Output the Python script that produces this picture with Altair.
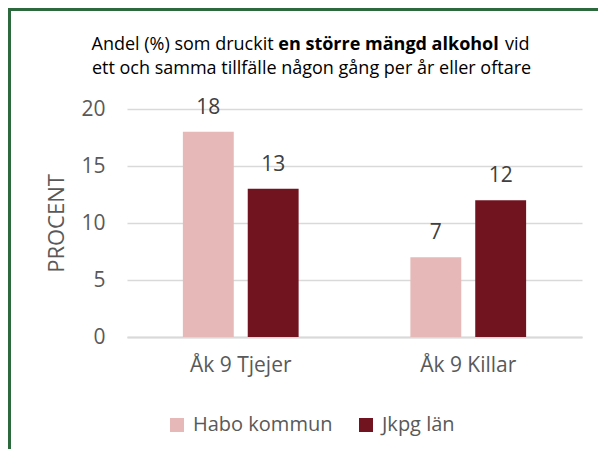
import altair as alt
import pandas as pd

categories = ["Åk 9 Tjejer", "Åk 9 Killar"]
series = ["Habo kommun", "Jkpg län"]
habo = [18, 7]
jkpg = [13, 12]
y_ticks = [0, 5, 10, 15, 20]
colors = ["#E6B8B7", "#721420"]

title_start = "Andel (%) som druckit"
title_bold = "en större mängd alkohol"
title_end = "vid"
title_line2 = "ett och samma tillfälle någon gång per år eller oftare"
y_title = "PROCENT"

rows = []
for i, c in enumerate(categories):
    rows.append({"Grupp": c, "Serie": series[0], "Procent": habo[i]})
    rows.append({"Grupp": c, "Serie": series[1], "Procent": jkpg[i]})
df = pd.DataFrame(rows)

FONT = "Open Sans"
PAD_L, PAD_T, PAD_R, PAD_B = 119, 101, 16, 112
W, H = 455, 228
BORDER = "#2C6A3E"

x_enc = alt.X("Grupp:N", sort=categories,
              scale=alt.Scale(paddingInner=0, paddingOuter=0),
              axis=alt.Axis(title=None, labelAngle=0, ticks=False, tickSize=0,
                            domain=True, domainColor="#d9d9d9", domainWidth=2,
                            labelPadding=17, labelFontSize=21, labelColor="#595959",
                            labelFont=FONT, grid=False))
xo_enc = alt.XOffset("Serie:N", sort=series,
                     scale=alt.Scale(paddingInner=0.2154, paddingOuter=0.8615))
y_enc = alt.Y("Procent:Q", scale=alt.Scale(domain=[0, 20], nice=False),
              axis=alt.Axis(values=y_ticks, title=y_title, domain=False, ticks=False,
                            tickSize=0, labelPadding=22, labelFontSize=21,
                            labelColor="#595959", labelFont=FONT, grid=True,
                            gridColor="#d9d9d9", gridWidth=1.3,
                            titleFont=FONT, titleFontSize=22, titleFontWeight="normal",
                            titleColor="#595959", titlePadding=12))

bars = alt.Chart(df).mark_bar().encode(
    x=x_enc, xOffset=xo_enc, y=y_enc,
    color=alt.Color("Serie:N", sort=series,
                    scale=alt.Scale(domain=series, range=colors),
                    legend=alt.Legend(title=None, orient="none", legendX=40, legendY=306,
                                      direction="horizontal", symbolType="square",
                                      symbolSize=196, symbolStrokeWidth=0,
                                      labelFontSize=20, labelColor="#595959",
                                      labelFont=FONT, columnPadding=23, labelOffset=6))
)

labels = alt.Chart(df).mark_text(dy=-18, baseline="alphabetic", fontSize=21,
                                 font=FONT, color="#404040").encode(
    x=alt.X("Grupp:N", sort=categories), xOffset=alt.XOffset("Serie:N", sort=series),
    y="Procent:Q", text="Procent:Q")

def txt(s, x, y, align, weight="normal"):
    return alt.Chart(pd.DataFrame({"t": [s]})).mark_text(
        align=align, baseline="alphabetic", fontSize=18, font=FONT,
        fontWeight=weight, color="#000000").encode(
        x=alt.value(x), y=alt.value(y), text="t:N")

t1 = txt(title_start, -35.5, -59, "left")
t2 = txt(title_bold, 151.3, -59, "left", "bold")
t3 = txt(title_end, 378, -59, "left")
t4 = txt(title_line2, 184.5, -35, "center")

border_df = pd.DataFrame({"a": [0]})
b_left = alt.Chart(border_df).mark_rule(color=BORDER, strokeWidth=3).encode(
    x=alt.value(-PAD_L + 1.5), y=alt.value(-PAD_T), y2=alt.value(H + PAD_B))
b_top = alt.Chart(border_df).mark_rule(color=BORDER, strokeWidth=3).encode(
    x=alt.value(-PAD_L), x2=alt.value(W + PAD_R), y=alt.value(-PAD_T + 1.5))

chart = alt.layer(bars, labels, t1, t2, t3, t4, b_left, b_top).properties(
    width=W, height=H,
    autosize=alt.AutoSizeParams(type="none"),
    padding={"left": PAD_L, "top": PAD_T, "right": PAD_R, "bottom": PAD_B},
    background="white",
).configure_view(stroke=None)

chart.save("out.html", embed_options={"renderer": "svg", "actions": False})
